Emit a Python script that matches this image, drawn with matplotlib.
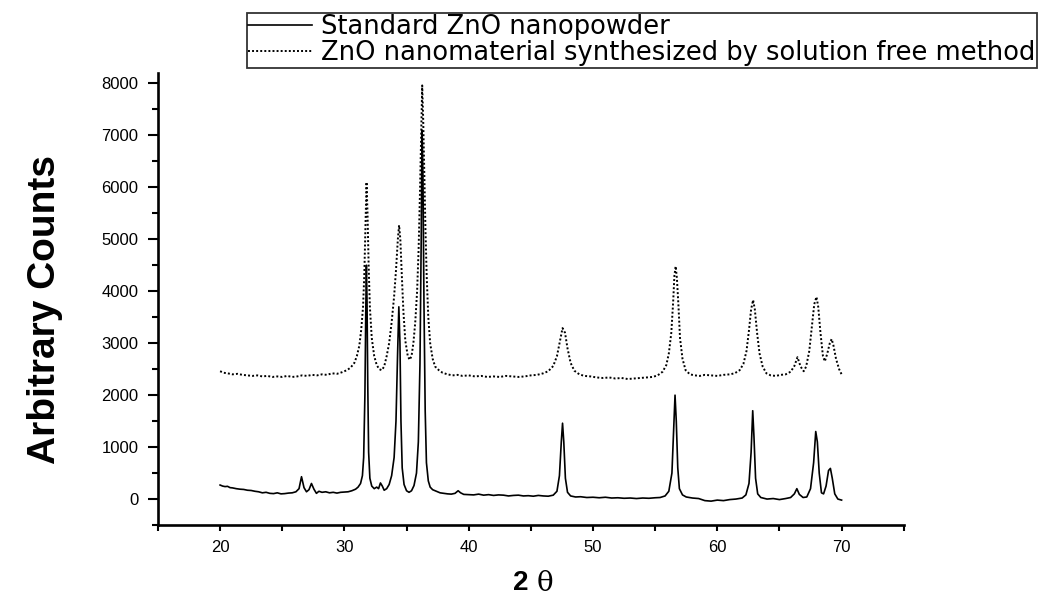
import matplotlib

matplotlib.use("Agg")
import matplotlib.pyplot as plt
from matplotlib.ticker import MultipleLocator

# Standard ZnO nanopowder (solid trace), 2-theta vs counts
std_theta = [
    20.0, 20.2, 20.4, 20.6, 20.8, 21.0, 21.3, 21.6, 21.9, 22.2, 22.5, 22.8,
    23.1, 23.4, 23.7, 24.0, 24.3, 24.6, 24.9, 25.2, 25.5, 25.8, 26.1, 26.35,
    26.55, 26.75, 26.95, 27.15, 27.35, 27.55, 27.75, 27.95, 28.2, 28.5, 28.8,
    29.1, 29.4, 29.7, 30.0, 30.3, 30.6, 30.9, 31.1, 31.3, 31.45, 31.55, 31.65,
    31.72, 31.77, 31.82, 31.88, 31.95, 32.05, 32.2, 32.4, 32.6, 32.75, 32.9,
    33.05, 33.2, 33.4, 33.6, 33.8, 34.0, 34.15, 34.28, 34.38, 34.47, 34.55,
    34.65, 34.8, 35.0, 35.2, 35.4, 35.6, 35.8, 35.95, 36.08, 36.18, 36.25,
    36.32, 36.4, 36.5, 36.6, 36.75, 36.9, 37.1, 37.4, 37.7, 38.0, 38.3, 38.6,
    38.9, 39.15, 39.35, 39.6, 40.0, 40.4, 40.8, 41.2, 41.6, 42.0, 42.4, 42.8,
    43.2, 43.6, 44.0, 44.4, 44.8, 45.2, 45.6, 46.0, 46.4, 46.8, 47.1, 47.3,
    47.45, 47.55, 47.65, 47.78, 47.95, 48.2, 48.6, 49.0, 49.5, 50.0, 50.5,
    51.0, 51.5, 52.0, 52.5, 53.0, 53.5, 54.0, 54.5, 55.0, 55.4, 55.8, 56.1,
    56.35, 56.5, 56.6, 56.7, 56.82, 56.95, 57.2, 57.5, 58.0, 58.5, 59.0, 59.5,
    60.0, 60.5, 61.0, 61.5, 62.0, 62.3, 62.55, 62.72, 62.85, 62.95, 63.08,
    63.25, 63.5, 64.0, 64.5, 65.0, 65.5, 65.9, 66.2, 66.4, 66.6, 66.9, 67.2,
    67.5, 67.75, 67.92, 68.05, 68.2, 68.38, 68.55, 68.75, 68.95, 69.1, 69.25,
    69.45, 69.7, 70.0,
]
std_counts = [
    270, 250, 240, 245, 220, 215, 200, 190, 185, 170, 165, 150,
    140, 120, 130, 110, 105, 120, 100, 105, 115, 120, 140, 200,
    430, 220, 140, 180, 300, 190, 110, 150, 130, 140, 120,
    130, 115, 130, 135, 140, 160, 190, 230, 300, 450, 800, 2000,
    3600, 4500, 3800, 2200, 900, 400, 250, 200, 230, 200, 310,
    250, 170, 200, 280, 450, 800, 1500, 2800, 3700, 3000, 1500,
    600, 280, 160, 130, 160, 260, 500, 1100, 2600, 5000, 7100,
    6200, 3800, 1700, 700, 350, 230, 180, 150, 120, 110, 100, 95,
    110, 160, 120, 90, 85, 80, 95, 75, 85, 70, 80, 75,
    60, 70, 75, 60, 65, 55, 70, 60, 55, 75, 150, 450,
    1100, 1460, 1100, 400, 130, 60, 40, 45, 30, 35, 25,
    35, 20, 25, 15, 20, 10, 20, 15, 25, 30, 60, 150,
    500, 1400, 2000, 1500, 600, 200, 80, 40, 20, 10, -30, -40,
    -20, -30, -10, 0, 20, 80, 300, 900, 1700, 1200, 400,
    100, 30, 0, 10, -10, 10, 30, 100, 200, 90, 30, 40,
    200, 700, 1300, 1100, 500, 120, 100, 250, 550, 590, 400,
    100, 0, -20,
]

# ZnO synthesized by the solution free method (dotted trace)
syn_theta = [
    20.0, 20.3, 20.6, 21.0, 21.4, 21.8, 22.2, 22.6, 23.0, 23.4, 23.8, 24.2,
    24.6, 25.0, 25.4, 25.8, 26.2, 26.6, 27.0, 27.4, 27.8, 28.2, 28.6, 29.0,
    29.4, 29.8, 30.2, 30.5, 30.8, 31.0, 31.2, 31.35, 31.5, 31.6, 31.7, 31.78,
    31.86, 31.95, 32.05, 32.2, 32.4, 32.6, 32.8, 33.0, 33.2, 33.4, 33.6, 33.8,
    34.0, 34.15, 34.3, 34.4, 34.5, 34.62, 34.75, 34.9, 35.1, 35.25, 35.4,
    35.55, 35.7, 35.85, 35.97, 36.08, 36.18, 36.26, 36.34, 36.43, 36.52,
    36.62, 36.75, 36.9, 37.1, 37.3, 37.6, 37.9, 38.3, 38.7, 39.1, 39.5, 40.0,
    40.5, 41.0, 41.5, 42.0, 42.5, 43.0, 43.5, 44.0, 44.5, 45.0, 45.5, 46.0,
    46.4, 46.8, 47.1, 47.35, 47.55, 47.75, 47.95, 48.2, 48.5, 48.9, 49.3,
    49.8, 50.3, 50.8, 51.3, 51.8, 52.3, 52.8, 53.3, 53.8, 54.3, 54.8, 55.2,
    55.6, 55.9, 56.1, 56.3, 56.45, 56.55, 56.65, 56.75, 56.88, 57.0, 57.2,
    57.45, 57.8, 58.2, 58.6, 59.0, 59.5, 60.0, 60.5, 61.0, 61.4, 61.8, 62.1,
    62.35, 62.55, 62.72, 62.88, 63.02, 63.2, 63.4, 63.65, 63.95, 64.3, 64.7,
    65.1, 65.5, 65.9, 66.2, 66.45, 66.7, 66.95, 67.15, 67.4, 67.6, 67.8,
    67.98, 68.12, 68.3, 68.5, 68.65, 68.85, 69.05, 69.2, 69.35, 69.55, 69.8,
    70.0,
]
syn_counts = [
    2460, 2430, 2420, 2400, 2410, 2390, 2380, 2370, 2380, 2360, 2370, 2350,
    2360, 2350, 2370, 2350, 2360, 2380, 2370, 2390, 2380, 2400, 2390, 2420,
    2410, 2440, 2480, 2530, 2620, 2750, 2950, 3250, 3700, 4300, 5300, 6100,
    5500, 4500, 3700, 3100, 2750, 2580, 2500, 2480, 2550, 2750, 3000, 3400,
    3900, 4400, 5000, 5270, 5000, 4300, 3600, 3050, 2750, 2680, 2750,
    3000, 3400, 4000, 4800, 5900, 7000, 7960, 7300, 6200, 5200,
    4300, 3500, 3000, 2700, 2550, 2480, 2430, 2400, 2380, 2390, 2370, 2380,
    2360, 2370, 2350, 2360, 2350, 2370, 2360, 2350, 2360, 2380, 2390, 2420,
    2460, 2560, 2750, 3050, 3290, 3200, 2900, 2620, 2470, 2400, 2370,
    2360, 2340, 2330, 2340, 2320, 2330, 2310, 2320, 2330, 2340, 2350, 2380,
    2450, 2580, 2800, 3200, 3800, 4300, 4480, 4250, 3700, 3100, 2700,
    2480, 2400, 2380, 2370, 2390, 2380, 2370, 2390, 2400, 2420, 2480, 2600,
    2850, 3250, 3650, 3830, 3650, 3200, 2800, 2550, 2420, 2380, 2370,
    2390, 2400, 2450, 2560, 2730, 2550, 2460, 2550, 2850, 3300, 3750,
    3890, 3700, 3200, 2750, 2650, 2800, 3000, 3080, 2950, 2700, 2500,
    2400,
]

labels = [
    "Standard ZnO nanopowder",
    "ZnO nanomaterial synthesized by solution free method",
]

plt.rcParams["font.family"] = ["Liberation Sans", "DejaVu Sans"]

fig = plt.figure(figsize=(10.46, 5.98), dpi=100)
ax = fig.add_axes([0.151, 0.122, 0.713, 0.756])

ax.plot(std_theta, std_counts, color="black", lw=1.2, label=labels[0])
ax.plot(syn_theta, syn_counts, color="black", lw=1.4, ls=(0, (1, 1.1)),
        label=labels[1])

ax.set_xlim(15, 75)
ax.set_ylim(-500, 8200)
ax.xaxis.set_major_locator(MultipleLocator(10))
ax.xaxis.set_minor_locator(MultipleLocator(5))
ax.yaxis.set_major_locator(MultipleLocator(1000))
ax.yaxis.set_minor_locator(MultipleLocator(500))
ax.set_xticks(range(20, 71, 10))

for side in ("top", "right"):
    ax.spines[side].set_visible(False)
for side in ("left", "bottom"):
    ax.spines[side].set_linewidth(1.9)

ax.tick_params(axis="x", which="both", direction="out", length=4, width=1.5,
               labelsize=12, pad=7)
ax.tick_params(axis="y", which="major", direction="out", length=7, width=1.5,
               labelsize=12, pad=7)
ax.tick_params(axis="y", which="minor", direction="out", length=4.5, width=1.5)

fig.text(0.043, 0.482, "Arbitrary Counts", rotation=90, ha="center",
         va="center", fontsize=28, fontweight="bold")
fig.text(0.505, 0.025, "2", ha="right", va="center", fontsize=20,
         fontweight="bold")
fig.text(0.513, 0.025, "\u03b8", ha="left", va="center", fontsize=20,
         family="DejaVu Serif")

leg = ax.legend(
    loc="upper right",
    bbox_to_anchor=(1037 / 1046, 1 - 13 / 598),
    bbox_transform=fig.transFigure,
    borderaxespad=0,
    frameon=True,
    fancybox=False,
    edgecolor="black",
    prop={"family": "DejaVu Sans", "size": 18.5},
    handlelength=2.5,
    handletextpad=0.35,
    borderpad=0.05,
    labelspacing=0.0,
)
leg.get_frame().set_linewidth(1.3)

fig.savefig("out.png", dpi=100)
